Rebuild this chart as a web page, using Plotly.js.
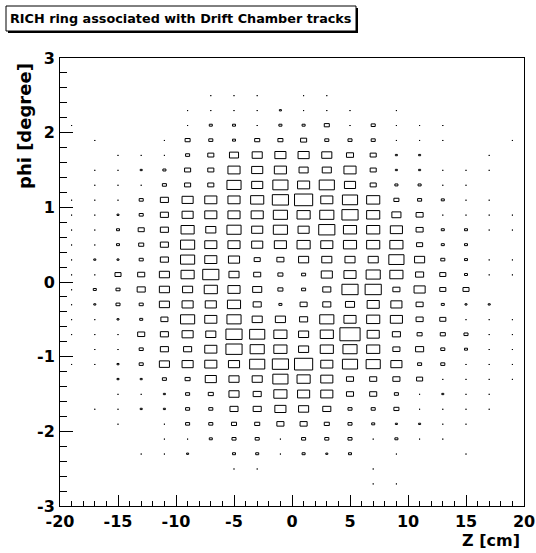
<!DOCTYPE html>
<html>
<head>
<meta charset="utf-8">
<script src="https://cdn.plot.ly/plotly-3.0.1.min.js"></script>
<style>html,body{margin:0;padding:0;background:#fff;}</style>
</head>
<body>
<div id="chart" style="width:536px;height:553px;"></div>
<script>
// Bin centres (Z in cm, phi in degree)
const zCenters = [-19,-17,-15,-13,-11,-9,-7,-5,-3,-1,1,3,5,7,9,11,13,15,17,19];
const phiCenters = [2.9,2.7,2.5,2.3,2.1,1.9,1.7,1.5,1.3,1.1,0.9,0.7,0.5,0.3,0.1,
                    -0.1,-0.3,-0.5,-0.7,-0.9,-1.1,-1.3,-1.5,-1.7,-1.9,-2.1,-2.3,-2.5,-2.7,-2.9];
const zBinWidth = 2;
const phiBinWidth = 0.2;
const countMax = 23;

// Bin contents, one row per phi bin (top to bottom), columns follow zCenters
const row_p29 = [0,0,0,0,0,0,0,0,0,0,0,0,0,0,0,0,0,0,0,0];
const row_p27 = [0,0,0,0,0,0,0,0,0,0,0,0,0,0,0,0,0,0,0,0];
const row_p25 = [0,0,0,0,0,0,1,1,1,0,1,1,0,0,0,0,0,0,0,0];
const row_p23 = [0,0,0,0,0,1,1,1,1,2,1,1,1,0,1,0,0,0,0,0];
const row_p21 = [1,0,0,0,0,1,3,3,1,3,3,5,1,4,1,1,1,0,0,0];
const row_p19 = [0,1,0,0,1,5,4,3,5,5,6,4,4,4,1,1,1,0,0,1];
const row_p17 = [0,0,1,1,1,4,6,9,10,11,11,10,7,6,2,2,0,0,1,0];
const row_p15 = [0,1,1,2,3,6,6,12,11,12,9,9,12,6,2,2,1,1,1,0];
const row_p13 = [0,1,1,1,4,6,6,14,11,15,12,15,11,6,3,3,1,1,0,0];
const row_p11 = [1,1,1,4,8,11,12,12,13,16,18,12,15,13,5,4,3,1,1,0];
const row_p09 = [1,1,2,4,8,11,12,12,12,14,13,14,16,13,9,7,1,1,1,1];
const row_p07 = [1,1,3,6,8,13,10,14,11,14,11,16,13,13,12,7,3,3,1,1];
const row_p05 = [1,1,3,5,8,14,12,12,11,12,13,12,13,13,13,6,3,3,0,0];
const row_p03 = [1,2,2,4,8,14,12,11,6,7,10,10,10,10,15,10,4,3,1,1];
const row_p01 = [1,1,6,7,10,13,16,10,7,5,4,11,12,14,13,8,6,3,1,1];
const row_m01 = [1,3,4,8,10,10,13,12,9,5,4,8,16,16,7,11,6,6,0,0];
const row_m03 = [1,2,4,4,10,11,11,13,8,3,7,8,9,12,11,7,3,2,2,0];
const row_m05 = [1,1,2,3,7,14,12,14,10,10,8,14,12,13,12,7,6,1,1,1];
const row_m07 = [1,1,1,7,8,11,10,16,15,13,10,13,20,12,8,5,5,4,1,1];
const row_m09 = [0,1,1,4,8,8,12,16,14,13,10,13,14,13,7,8,4,3,1,1];
const row_m11 = [1,1,2,4,10,11,12,11,15,16,18,12,15,14,11,4,4,1,1,1];
const row_m13 = [0,0,2,2,4,5,11,10,10,15,13,12,7,7,7,6,1,1,1,1];
const row_m15 = [0,0,1,1,2,4,5,10,8,13,12,12,7,7,4,1,2,1,1,0];
const row_m17 = [0,1,1,2,2,4,4,8,8,11,10,8,4,4,5,1,1,1,1,0];
const row_m19 = [0,0,1,0,1,4,4,5,5,7,7,5,4,3,2,2,1,1,0,0];
const row_m21 = [0,0,0,0,1,1,3,4,4,1,4,4,4,1,3,1,1,0,0,0];
const row_m23 = [0,0,0,1,1,2,0,3,3,1,3,2,3,0,1,0,0,1,0,0];
const row_m25 = [0,0,0,0,0,0,0,1,1,0,0,0,0,1,0,0,0,0,0,0];
const row_m27 = [0,0,0,0,0,0,0,0,0,0,0,0,0,1,1,0,0,0,0,0];
const row_m29 = [0,0,0,0,0,0,0,0,0,0,0,0,0,0,0,0,0,0,0,0];

const counts = [row_p29,row_p27,row_p25,row_p23,row_p21,row_p19,row_p17,row_p15,row_p13,row_p11,
                row_p09,row_p07,row_p05,row_p03,row_p01,row_m01,row_m03,row_m05,row_m07,row_m09,
                row_m11,row_m13,row_m15,row_m17,row_m19,row_m21,row_m23,row_m25,row_m27,row_m29];

// Tick labels
const xTickVals = [-20,-15,-10,-5,0,5,10,15,20];
const xTickText = ['-20','-15','-10','-5','0','5','10','15','20'];
const yTickVals = [-3,-2,-1,0,1,2,3];
const yTickText = ['-3','-2','-1','0','1','2','3'];

// Build box outlines (ROOT "BOX" draw option) in data coordinates
const bx = [], by = [];
for (let j = 0; j < phiCenters.length; j++) {
  for (let i = 0; i < zCenters.length; i++) {
    const c = counts[j][i];
    if (!c) continue;
    const f = c / countMax;
    const hw = 0.5 * zBinWidth * f, hh = 0.5 * phiBinWidth * f;
    const x = zCenters[i], y = phiCenters[j];
    bx.push(x-hw, x+hw, x+hw, x-hw, x-hw, null);
    by.push(y-hh, y-hh, y+hh, y+hh, y-hh, null);
  }
}

const W = 536, H = 553, ML = 60, MR = 12, MT = 58, MB = 47;
const PW = W - ML - MR, PH = H - MT - MB;
const px2x = p => (p - ML) / PW;
const px2y = p => (H - MB - p) / PH;

const FONT = 'DejaVu Sans, Arial, sans-serif';
const bold = s => '<b>' + s + '</b>';

const data = [{
  type: 'scatter', mode: 'lines', x: bx, y: by,
  line: {color: '#000', width: 1}, connectgaps: false,
  hoverinfo: 'skip', showlegend: false
}];

const layout = {
  width: W, height: H,
  margin: {l: ML, r: MR, t: MT, b: MB, pad: 0},
  paper_bgcolor: '#fff', plot_bgcolor: '#fff',
  showlegend: false,
  font: {family: FONT, color: '#000'},
  title: {
    text: bold('RICH ring associated with Drift Chamber tracks'),
    x: 10 / W, xanchor: 'left', xref: 'container',
    y: 1 - 18.5 / H, yanchor: 'middle', yref: 'container',
    font: {family: FONT, size: 12.8, color: '#000'}
  },
  xaxis: {
    range: [-20, 20], showgrid: false, zeroline: false,
    showline: true, mirror: true, linecolor: '#000', linewidth: 1,
    ticks: 'inside', ticklen: 11, tickwidth: 1, tickcolor: '#000',
    tickmode: 'array', tickvals: xTickVals, ticktext: xTickText.map(bold),
    tickfont: {family: FONT, size: 16, color: '#000'},
    ticklabelstandoff: 1,
    minor: {ticks: 'inside', ticklen: 5, tickmode: 'linear', tick0: 0, dtick: 1, tickcolor: '#000', tickwidth: 1, showgrid: false}
  },
  yaxis: {
    range: [-3, 3], showgrid: false, zeroline: false,
    showline: true, mirror: true, linecolor: '#000', linewidth: 1,
    ticks: 'inside', ticklen: 13, tickwidth: 1, tickcolor: '#000',
    tickmode: 'array', tickvals: yTickVals, ticktext: yTickText.map(bold),
    tickfont: {family: FONT, size: 16, color: '#000'},
    ticklabelstandoff: 1,
    minor: {ticks: 'inside', ticklen: 7, tickmode: 'linear', tick0: 0, dtick: 0.2, tickcolor: '#000', tickwidth: 1, showgrid: false}
  },
  shapes: [
    // title pave shadow
    {type: 'rect', xref: 'paper', yref: 'paper', layer: 'below',
     x0: px2x(8), x1: px2x(358), y0: px2y(33), y1: px2y(8),
     fillcolor: '#000', line: {width: 0}},
    // title pave
    {type: 'rect', xref: 'paper', yref: 'paper', layer: 'below',
     x0: px2x(6), x1: px2x(356), y0: px2y(31), y1: px2y(6),
     fillcolor: '#fff', line: {color: '#000', width: 1}}
  ],
  annotations: [
    {text: bold('Z [cm]'), xref: 'paper', yref: 'paper',
     x: px2x(522), y: px2y(540), xanchor: 'right', yanchor: 'middle',
     showarrow: false, font: {family: FONT, size: 16, color: '#000'}},
    {text: bold('phi [degree]'), xref: 'paper', yref: 'paper', textangle: -90,
     x: px2x(24), y: px2y(61), xanchor: 'center', yanchor: 'top',
     showarrow: false, font: {family: FONT, size: 18, color: '#000'}}
  ]
};

Plotly.newPlot('chart', data, layout, {displayModeBar: false, staticPlot: true});
</script>
</body>
</html>
